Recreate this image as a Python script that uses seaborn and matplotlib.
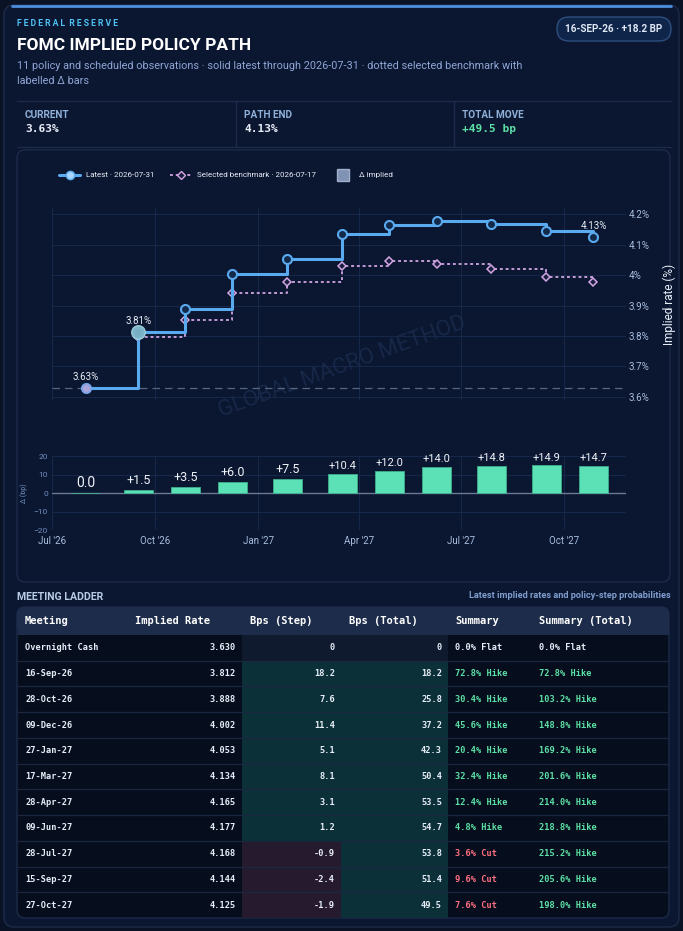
"""FOMC implied policy path card: step path vs benchmark, delta bars and meeting ladder."""

import matplotlib
matplotlib.use("Agg")
import matplotlib.pyplot as plt
import numpy as np
import pandas as pd
import seaborn as sns
from matplotlib.lines import Line2D
from matplotlib.patches import FancyBboxPatch, Rectangle

W, H = 683, 931

meetings = ["Overnight Cash", "16-Sep-26", "28-Oct-26", "09-Dec-26", "27-Jan-27",
            "17-Mar-27", "28-Apr-27", "09-Jun-27", "28-Jul-27", "15-Sep-27", "27-Oct-27"]
obs_dates = ["2026-07-31", "2026-09-16", "2026-10-28", "2026-12-09", "2027-01-27",
             "2027-03-17", "2027-04-28", "2027-06-09", "2027-07-28", "2027-09-15", "2027-10-27"]
implied_rate = [3.630, 3.812, 3.888, 4.002, 4.053, 4.134, 4.165, 4.177, 4.168, 4.144, 4.125]
benchmark_rate = [3.630, 3.797, 3.853, 3.942, 3.978, 4.030, 4.045, 4.037, 4.020, 3.995, 3.978]
delta_bp = [0.0, 1.5, 3.5, 6.0, 7.5, 10.4, 12.0, 14.0, 14.8, 14.9, 14.7]
step_bp = [0.0, 18.2, 7.6, 11.4, 5.1, 8.1, 3.1, 1.2, -0.9, -2.4, -1.9]
total_bp = [0.0, 18.2, 25.8, 37.2, 42.3, 50.4, 53.5, 54.7, 53.8, 51.4, 49.5]
labelled_points = [0, 1, 10]
selected_point = 1

rate_ticks = [3.6, 3.7, 3.8, 3.9, 4.0, 4.1, 4.2]
rate_tick_labels = ["3.6%", "3.7%", "3.8%", "3.9%", "4%", "4.1%", "4.2%"]
delta_ticks = [-20, -10, 0, 10, 20]
month_ticks = ["2026-07-01", "2026-10-01", "2027-01-01", "2027-04-01", "2027-07-01", "2027-10-01"]
month_labels = ["Jul '26", "Oct '26", "Jan '27", "Apr '27", "Jul '27", "Oct '27"]
table_headers = ["Meeting", "Implied Rate", "Bps (Step)", "Bps (Total)", "Summary", "Summary (Total)"]

PAGE = "#0a1326"
CARD = "#0b1630"
BORDER = "#1c2b4a"
GRID = "#16284a"
BLUE = "#5aaaf0"
BENCH = "#d2a6e4"
MINT = "#5ce0b5"
TEXT = "#e8eef8"
MUTED = "#8fa6d6"
HIKE = "#5de0a5"
CUT = "#ff6f7f"
MONO = "DejaVu Sans Mono"

sns.set_theme(style="dark", rc={"axes.facecolor": "none", "figure.facecolor": PAGE})
plt.rcParams["font.family"] = ["Roboto", "DejaVu Sans"]


def box(x0, y0, x1, y1):
    return [x0 / W, 1 - y1 / H, (x1 - x0) / W, (y1 - y0) / H]


def pct2(v):
    # half-up rounding for the 2dp labels (4.125 -> 4.13)
    return f"{v + 1e-9:.2f}%"


df = pd.DataFrame({
    "date": pd.to_datetime(obs_dates),
    "latest": implied_rate,
    "bench": benchmark_rate,
    "delta": delta_bp,
})
xlim = (pd.Timestamp("2026-07-01"), pd.Timestamp("2027-11-25"))

fig = plt.figure(figsize=(W / 100, H / 100), dpi=100)

# background layer in pixel units
bg = fig.add_axes([0, 0, 1, 1], zorder=-5)
bg.set_xlim(0, W)
bg.set_ylim(H, 0)
bg.axis("off")


def rbox(x, y, w, h, r, fc, ec, lw=1.0):
    bg.add_patch(FancyBboxPatch((x, y), w, h, boxstyle=f"round,pad=0,rounding_size={r}",
                                fc=fc, ec=ec, lw=lw))


rbox(4, 5, 675, 922, 10, CARD, BORDER)
bg.plot([12, 671], [5.5, 5.5], color="#4d8fdc", lw=2, solid_capstyle="round")

bg.text(17, 23, "F E D E R A L  R E S E R V E", color="#4fc3f7",
        fontsize=6.2, fontweight="bold", va="center")
bg.text(17, 45, "FOMC IMPLIED POLICY PATH", color="white", fontsize=12.5,
        fontweight="bold", va="center")
bg.text(17, 66, "11 policy and scheduled observations · solid latest through 2026-07-31 · "
        "dotted selected benchmark with", color=MUTED, fontsize=7.8, va="center")
bg.text(17, 81, "labelled Δ bars", color=MUTED, fontsize=7.8, va="center")

rbox(557, 17, 114, 24, 12, "#10254a", "#2e4f7f")
bg.text(614, 29, "16-SEP-26 · +18.2 BP", color="#dfe8f5", fontsize=7.1,
        fontweight="bold", ha="center", va="center")

# KPI strip
for yy in (101, 147):
    bg.plot([17, 671], [yy, yy], color=BORDER, lw=1)
for xx in (236, 454):
    bg.plot([xx, xx], [101, 147], color=BORDER, lw=1)
kpis = [("CURRENT", pct2(implied_rate[0]), TEXT),
        ("PATH END", pct2(implied_rate[-1]), TEXT),
        ("TOTAL MOVE", f"{total_bp[-1]:+.1f} bp", HIKE)]
for (lab, val, col), xx in zip(kpis, (25, 244, 462)):
    bg.text(xx, 115, lab, color="#8fb0d8", fontsize=7.2, fontweight="bold", va="center")
    bg.text(xx, 129, val, color=col, fontsize=8, fontweight="bold", va="center", family=MONO)

# chart card
rbox(17, 150, 653, 432, 8, CARD, BORDER)
bg.text(342, 367, "GLOBAL MACRO METHOD", rotation=20, fontsize=16, color="#172848",
        ha="center", va="center")

# main path
ax = fig.add_axes(box(52, 208, 626, 400))
sns.lineplot(data=df, x="date", y="bench", ax=ax, color=BENCH, lw=1.3,
             drawstyle="steps-post", linestyle=(0, (1.6, 1.6)), marker="D", markersize=4.5,
             markerfacecolor="#1a1f3e", markeredgecolor=BENCH, markeredgewidth=1.1, zorder=3)
sns.lineplot(data=df, x="date", y="latest", ax=ax, color=BLUE, lw=2.2,
             drawstyle="steps-post", marker="o", markersize=6.5,
             markerfacecolor="#12294a", markeredgecolor=BLUE, markeredgewidth=1.5, zorder=4)
ax.axhline(implied_rate[0], color="#55667f", lw=0.9, ls=(0, (6, 4)), zorder=2)
first = df.iloc[0]
ax.scatter(first["date"], first["latest"], s=38, color="#a9a6dc", edgecolor="#8a9ee0",
           lw=1, zorder=6)
sel = df.iloc[selected_point]
ax.scatter(sel["date"], sel["latest"], s=95, color="#7fb6c8", edgecolor="#9fd0dc",
           lw=1, alpha=0.95, zorder=6)
for i in labelled_points:
    ax.annotate(pct2(implied_rate[i]), (df["date"][i], implied_rate[i]),
                xytext=(0, 8), textcoords="offset points", ha="center", va="center",
                color=TEXT, fontsize=7, zorder=7)
ax.set_xlim(*xlim)
ax.set_ylim(3.590, 4.220)
ax.set_xticks(pd.to_datetime(month_ticks))
ax.set_xticklabels([])
ax.set_yticks(rate_ticks)
ax.set_yticklabels(rate_tick_labels)
ax.yaxis.tick_right()
ax.yaxis.set_label_position("right")
ax.set_ylabel("Implied rate (%)", color=TEXT, fontsize=8.5)
ax.yaxis.set_label_coords(1.063, 0.5)
ax.set_xlabel("")
ax.tick_params(axis="both", length=0, colors="#a9bedf", labelsize=7, pad=2)
ax.grid(True, color=GRID, lw=0.8)
for s in ax.spines.values():
    s.set_visible(False)

handles = [
    Line2D([], [], color=BLUE, lw=2.2, marker="o", ms=6, mfc="#a8d4ff", mec=BLUE),
    Line2D([], [], color=BENCH, lw=1.3, ls=(0, (1.6, 1.6)), marker="D", ms=4,
           mfc="#1a1f3e", mec=BENCH),
    Line2D([], [], ls="", marker="s", ms=8, mfc="#8093b5", mec="#a0b0cc"),
]
fig.legend(handles, ["Latest · 2026-07-31", "Selected benchmark · 2026-07-17", "Δ implied"],
           loc="center left", bbox_to_anchor=(52 / W, 1 - 175 / H), ncol=3, frameon=False,
           fontsize=5.8, labelcolor=TEXT, handlelength=2.6,
           columnspacing=2.0, handletextpad=0.7)

# delta bars
ax2 = fig.add_axes(box(52, 456, 626, 530))
ax2.bar(df["date"], df["delta"], width=26, color=MINT, edgecolor="#3fae8c", lw=0.6, zorder=3)
ax2.axhline(0, color="#6a7a95", lw=1, zorder=2)
for d, v in zip(df["date"], delta_bp):
    lab = "0.0" if v == 0 else f"{v:+.1f}"
    fs = 10 if v == 0 else (9 if len(lab) <= 4 else 8)
    ax2.annotate(lab, (d, v), xytext=(0, 2), textcoords="offset points", ha="center",
                 va="bottom", color="#f0f4fa", fontsize=fs, annotation_clip=False, zorder=5)
ax2.set_xlim(*xlim)
ax2.set_ylim(-20, 20)
ax2.set_yticks(delta_ticks)
ax2.set_xticks(pd.to_datetime(month_ticks))
ax2.set_xticklabels(month_labels)
ax2.tick_params(axis="x", length=0, colors="#a9bedf", labelsize=7, pad=4)
ax2.tick_params(axis="y", length=0, colors="#6f8fc0", labelsize=6, pad=3)
ax2.set_ylabel("Δ (bp)", color="#6f8fc0", fontsize=5)
ax2.set_xlabel("")
ax2.grid(True, color=GRID, lw=0.8)
for s in ax2.spines.values():
    s.set_visible(False)

# meeting ladder
bg.text(17, 597, "MEETING LADDER", color="#b8cce8", fontsize=7.6, fontweight="bold", va="center")
bg.text(671, 596, "Latest implied rates and policy-step probabilities", color="#7f9fcf",
        fontsize=6.6, fontweight="bold", ha="right", va="center")
rbox(17, 607, 652, 311, 8, "#060e1e", BORDER)
rbox(17, 607, 652, 28, 8, "#1d2c4a", "none")
bg.add_patch(Rectangle((17.5, 622), 651, 13, fc="#1d2c4a", ec="none"))
for lab, xx in zip(table_headers, (25, 135, 250, 349, 455, 539)):
    bg.text(xx, 621, lab, color="white", fontsize=7.5, fontweight="bold", va="center",
            family=MONO)

n = len(meetings)
tab = fig.add_axes(box(17, 635, 669, 918))
tab.set_xlim(17, 669)
tab.set_ylim(n, 0)
tab.axis("off")


def cell_color(v):
    if v > 0:
        return "#0b3038"
    if v < 0:
        return "#251a2e"
    return "#0f1a2e"


def fmt_bp(v):
    return "0" if v == 0 else f"{v:.1f}"


def summary(v):
    word = "Hike" if v > 0 else ("Cut" if v < 0 else "Flat")
    col = HIKE if v > 0 else (CUT if v < 0 else TEXT)
    return f"{abs(v) * 4:.1f}% {word}", col


for i in range(n):
    tab.add_patch(Rectangle((242, i), 99, 1, fc=cell_color(step_bp[i]), ec="none"))
    tab.add_patch(Rectangle((341, i), 107, 1, fc=cell_color(total_bp[i]), ec="none"))
    yc = i + 0.5
    kw = dict(fontsize=6.2, fontweight="bold", va="center", family=MONO)
    tab.text(25, yc, meetings[i], color=TEXT, **kw)
    tab.text(236, yc, f"{implied_rate[i]:.3f}", color=TEXT, ha="right", **kw)
    tab.text(335, yc, fmt_bp(step_bp[i]), color=TEXT, ha="right", **kw)
    tab.text(442, yc, fmt_bp(total_bp[i]), color=TEXT, ha="right", **kw)
    s1, c1 = summary(step_bp[i])
    s2, c2 = summary(total_bp[i])
    tab.text(455, yc, s1, color=c1, **kw)
    tab.text(539, yc, s2, color=c2, **kw)
tab.hlines(np.arange(1, n), 17, 669, color="#1a273f", lw=0.9)

fig.savefig("out.png", dpi=100, facecolor=PAGE)
